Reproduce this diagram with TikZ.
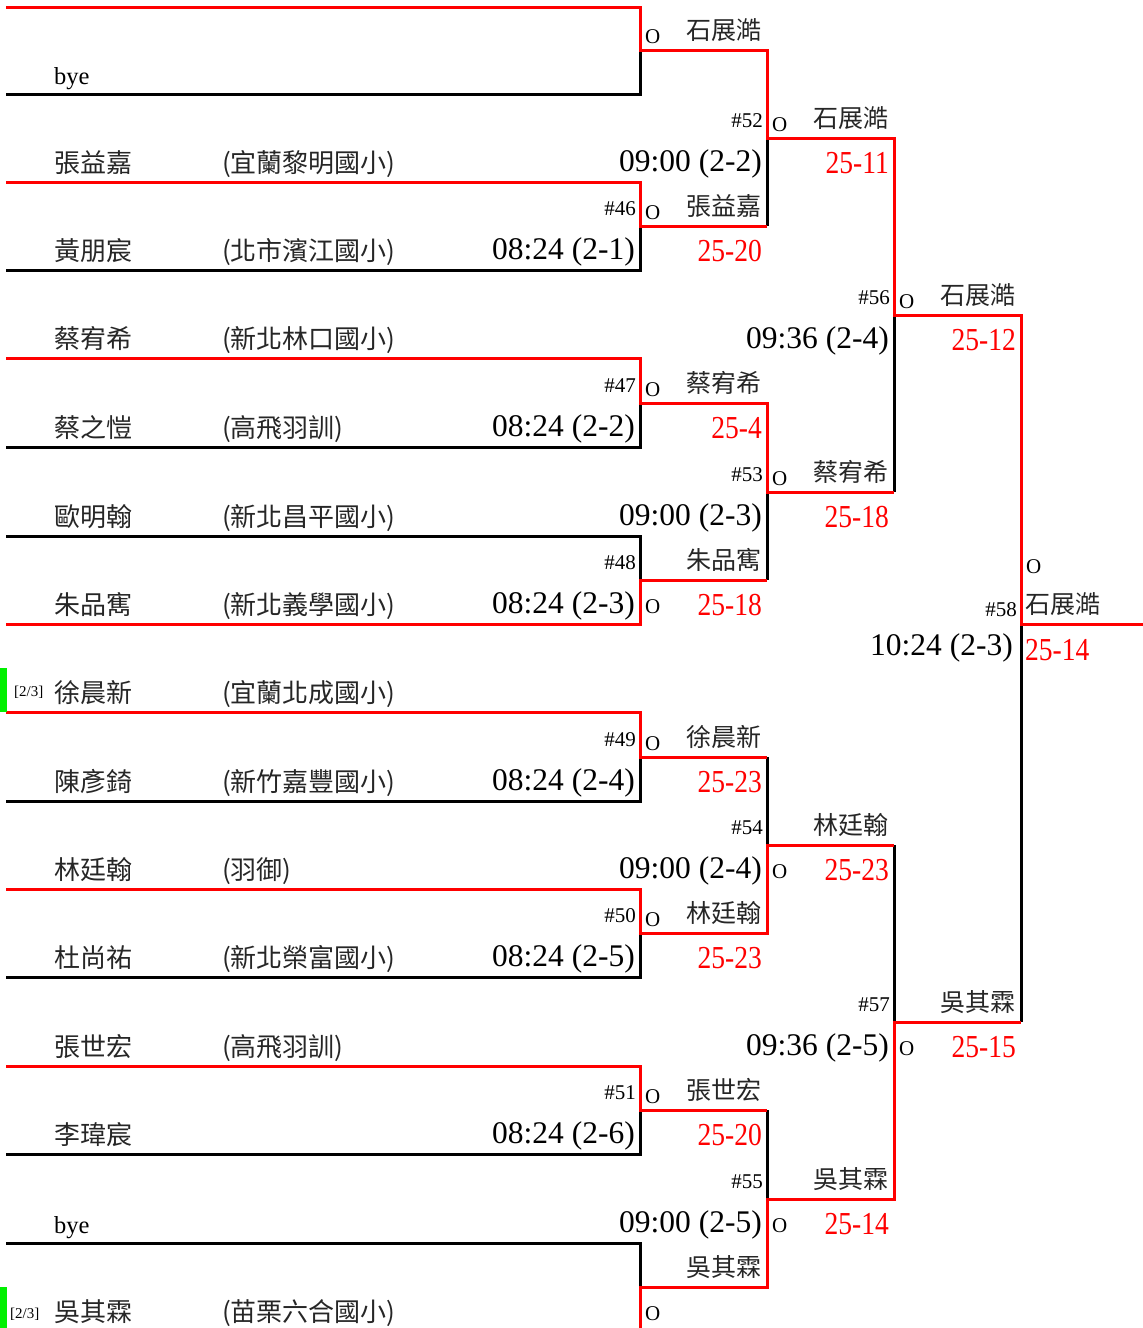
\documentclass[tikz,border=0pt]{standalone}
\usepackage{fontspec}
\setmainfont{Liberation Serif}
\newfontfamily\cjk{Noto Sans CJK TC}
\newfontfamily\scfont[FakeStretch=0.86]{Liberation Serif}
\definecolor{rd}{RGB}{255,0,0}
\definecolor{gn}{RGB}{0,240,0}
\newcommand{\mtch}[8]{% id, x, W, num, name, time, score, O-offset
 \node[numl] (n#1) at ({#2-4},{#3-11}) {\##4};
 \node[ol] (o#1) at ({#2+5},{#3#8}) {O};
 \node[wnm] (w#1) at ({#2+122},{#3-11}) {#5};
 \node[tml] (t#1) at ({#2-5},{#3+33}) {#6};
 \node[scl] (s#1) at ({#2+122},{#3+35}) {#7};
}
\newcommand{\plyr}[4]{% id, line y, name, school
 \node[pname] (p#1) at (54,{#2-10}) {#3};
 \node[pname] (c#1) at (222,{#2-10}) {#4};
}
\begin{document}
\begin{tikzpicture}[x=1pt,y=-1pt,
 ln/.style={line width=3pt, line join=miter},
 win/.style={ln, draw=rd},
 lose/.style={ln, draw=black},
 pname/.style={font=\cjk\fontsize{26}{30}\selectfont, text=black!85, inner sep=0pt, anchor=base west},
 byel/.style={font=\fontsize{24.5}{30}\selectfont, inner sep=0pt, anchor=base west},
 wnm/.style={font=\cjk\fontsize{25}{30}\selectfont, text=black!85, inner sep=0pt, anchor=base east},
 wnmw/.style={wnm, anchor=base west},
 numl/.style={font=\fontsize{21}{25}\selectfont, inner sep=0pt, anchor=base east},
 ol/.style={font=\fontsize{21}{25}\selectfont, inner sep=0pt, anchor=base west},
 tml/.style={font=\fontsize{31.5}{36}\selectfont, inner sep=0pt, anchor=base east},
 scl/.style={font=\scfont\fontsize{32}{36}\selectfont, text=rd, inner sep=0pt, anchor=base east},
 sclw/.style={scl, anchor=base west},
 seedl/.style={font=\fontsize{15}{18}\selectfont, inner sep=0pt, anchor=base west},
]
\useasboundingbox (0,0) rectangle (1143,1328);

% losing (black) segments
\draw[lose] (6,94) -| (640,50);
\draw[lose] (6,270) -| (640,226);
\draw[lose] (767,226) -- (767,138);
\draw[lose] (6,447) -| (640,403);
\draw[lose] (6,536) -| (640,580);
\draw[lose] (767,580) -- (767,492);
\draw[lose] (894,492) -- (894,315);
\draw[lose] (6,801) -| (640,757);
\draw[lose] (767,757) -- (767,845);
\draw[lose] (6,977) -| (640,933);
\draw[lose] (6,1154) -| (640,1110);
\draw[lose] (767,1110) -- (767,1199);
\draw[lose] (6,1243) -| (640,1287);
\draw[lose] (894,845) -- (894,1022);
\draw[lose] (1021,1022) -- (1021,624);

% winning (red) paths
\draw[win] (6,7) -| (640,50) -| (767,138) -| (894,315) -| (1021,624) -- (1143,624);
\draw[win] (6,182) -| (640,226) -- (767,226);
\draw[win] (6,358) -| (640,403) -| (767,492) -- (894,492);
\draw[win] (6,624) -| (640,580) -- (767,580);
\draw[win] (6,712) -| (640,757) -- (767,757);
\draw[win] (6,889) -| (640,933) -| (767,845) -- (894,845);
\draw[win] (6,1066) -| (640,1110) -- (767,1110);
\draw[win] (640,1328) |- (767,1287) |- (894,1199) |- (1021,1022);

% seed markers
\fill[gn] (0,668) rectangle (7,712);
\fill[gn] (0,1287) rectangle (7,1328);
\node[seedl] (sd1) at (14,696) {[2/3]};
\node[seedl] (sd2) at (10,1318) {[2/3]};

% players
\node[byel] (bye1) at (54,84) {bye};
\plyr{1}{182}{張益嘉}{(宜蘭黎明國小)}
\plyr{2}{270}{黃朋宸}{(北市濱江國小)}
\plyr{3}{358}{蔡宥希}{(新北林口國小)}
\plyr{4}{447}{蔡之愷}{(高飛羽訓)}
\plyr{5}{536}{歐明翰}{(新北昌平國小)}
\plyr{6}{624}{朱品寯}{(新北義學國小)}
\plyr{7}{712}{徐晨新}{(宜蘭北成國小)}
\plyr{8}{801}{陳彥錡}{(新竹嘉豐國小)}
\plyr{9}{889}{林廷翰}{(羽御)}
\plyr{10}{977}{杜尚祐}{(新北榮富國小)}
\plyr{11}{1066}{張世宏}{(高飛羽訓)}
\node[pname] (p12) at (54,1144) {李瑋宸};
\node[byel] (bye2) at (54,1233) {bye};
\plyr{13}{1331}{吳其霖}{(苗栗六合國小)}

% round 1
\node[ol] (o0) at (645,43) {O};
\node[wnm] (w0) at (762,39) {石展澔};
\mtch{46}{640}{226}{46}{張益嘉}{08:24 (2-1)}{25-20}{-7}
\mtch{47}{640}{403}{47}{蔡宥希}{08:24 (2-2)}{25-4}{-7}
\mtch{48}{640}{580}{48}{朱品寯}{08:24 (2-3)}{25-18}{+33}
\mtch{49}{640}{757}{49}{徐晨新}{08:24 (2-4)}{25-23}{-7}
\mtch{50}{640}{933}{50}{林廷翰}{08:24 (2-5)}{25-23}{-7}
\mtch{51}{640}{1110}{51}{張世宏}{08:24 (2-6)}{25-20}{-7}
\node[wnm] (w99) at (762,1276) {吳其霖};
\node[ol] (o99) at (645,1320) {O};

% round 2
\mtch{52}{767}{138}{52}{石展澔}{09:00 (2-2)}{25-11}{-7}
\mtch{53}{767}{492}{53}{蔡宥希}{09:00 (2-3)}{25-18}{-7}
\mtch{54}{767}{845}{54}{林廷翰}{09:00 (2-4)}{25-23}{+33}
\mtch{55}{767}{1199}{55}{吳其霖}{09:00 (2-5)}{25-14}{+33}

% round 3
\mtch{56}{894}{315}{56}{石展澔}{09:36 (2-4)}{25-12}{-7}
\mtch{57}{894}{1022}{57}{吳其霖}{09:36 (2-5)}{25-15}{+33}

% final
\node[ol] (o58) at (1026,573) {O};
\node[numl] (n58) at (1017,616) {\#58};
\node[wnmw] (w58) at (1025,613) {石展澔};
\node[tml] (t58) at (1013,655) {10:24 (2-3)};
\node[sclw] (s58) at (1025,660) {25-14};
\end{tikzpicture}
\end{document}
